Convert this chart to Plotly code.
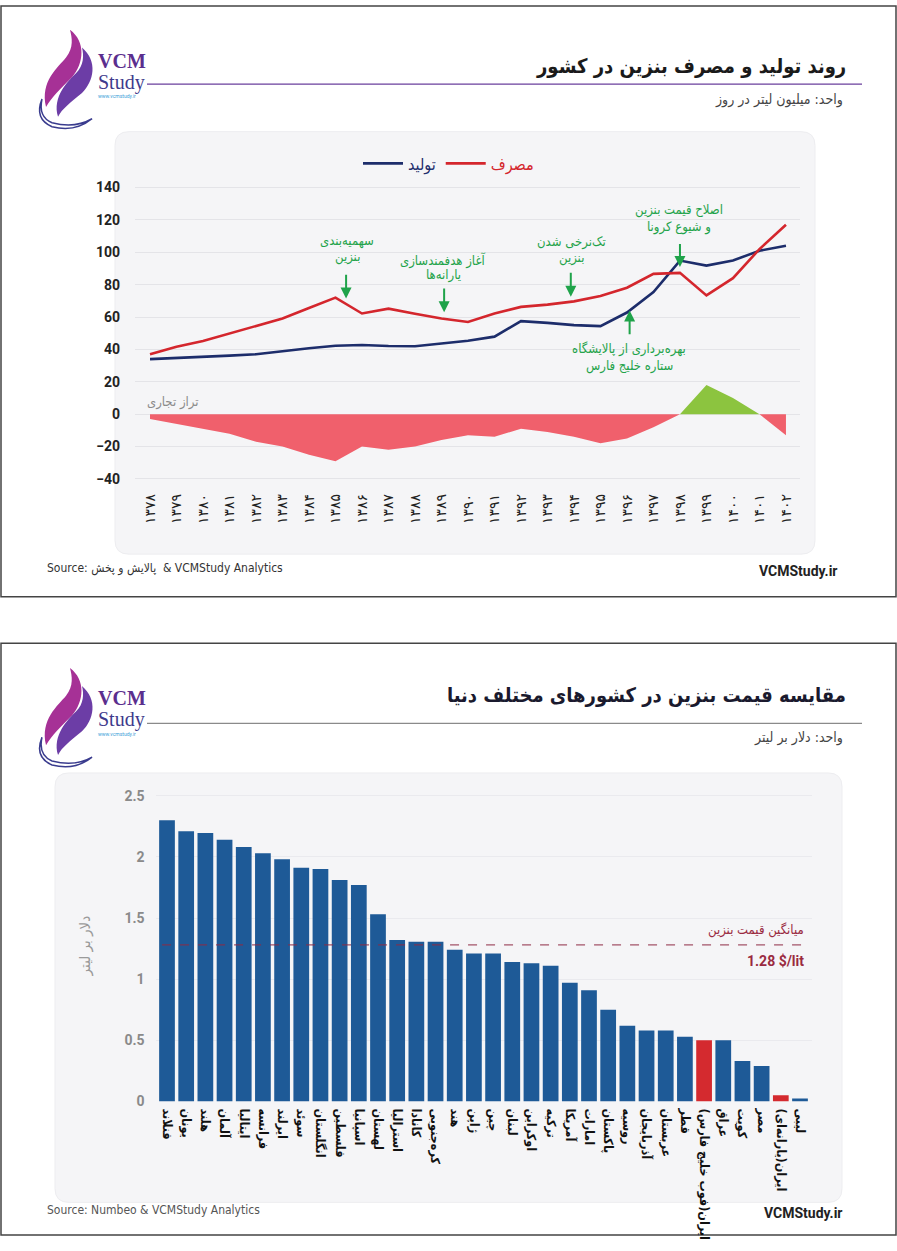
import plotly.graph_objects as go

W, H = 897, 1251

# ---------------- data: chart 1 ----------------
years = ["۱۳۷۸", "۱۳۷۹", "۱۳۸۰", "۱۳۸۱", "۱۳۸۲", "۱۳۸۳", "۱۳۸۴", "۱۳۸۵", "۱۳۸۶",
         "۱۳۸۷", "۱۳۸۸", "۱۳۸۹", "۱۳۹۰", "۱۳۹۱", "۱۳۹۲", "۱۳۹۳", "۱۳۹۴", "۱۳۹۵",
         "۱۳۹۶", "۱۳۹۷", "۱۳۹۸", "۱۳۹۹", "۱۴۰۰", "۱۴۰۱", "۱۴۰۲"]
production = [34, 34.6, 35.6, 36.2, 37, 39, 40.7, 42.3, 42.7, 42.1, 42, 43.7, 45.4,
              47.9, 57.5, 56.4, 55, 54.4, 62.8, 75.5, 94.9, 91.8, 94.9, 101, 104]
consumption = [37, 41.7, 45.2, 49.8, 54.6, 59.1, 65.6, 72, 62.2, 65.2, 62, 59.1, 57,
               62.2, 66.3, 67.7, 69.7, 73, 78.1, 86.7, 87.3, 73.4, 84, 102, 117]
balance = [-3, -6, -9, -12, -17, -20, -25, -29, -20, -22, -20, -16, -13, -14, -9,
           -11, -14, -18, -15, -8, 0, 18, 10, 0, -13]

# ---------------- data: chart 2 ----------------
countries = ["فنلاند", "یونان", "هلند", "آلمان", "ایتالیا", "فرانسه", "ایرلند", "سوئد",
             "انگلستان", "فلسطین", "اسپانیا", "لهستان", "استرالیا", "کانادا", "کره‌جنوبی",
             "هند", "ژاپن", "چین", "لبنان", "اوکراین", "ترکیه", "آمریکا", "امارات",
             "پاکستان", "روسیه", "آذربایجان", "عربستان", "قطر", "ایران(فوب خلیج فارس)",
             "عراق", "کویت", "مصر", "ایران(یارانه‌ای)", "لیبی"]
prices = [2.30, 2.21, 2.195, 2.14, 2.08, 2.03, 1.98, 1.91, 1.90, 1.81, 1.77, 1.53,
          1.32, 1.305, 1.305, 1.24, 1.21, 1.21, 1.14, 1.13, 1.11, 0.97, 0.91, 0.75,
          0.62, 0.58, 0.58, 0.53, 0.50, 0.50, 0.33, 0.29, 0.05, 0.025]
highlight = ["ایران(فوب خلیج فارس)", "ایران(یارانه‌ای)"]
avg_price = 1.28

FONT = "Roboto, DejaVu Sans, sans-serif"
FA = "DejaVu Sans, sans-serif"
FAC = "DejaVu Sans Condensed, DejaVu Sans, sans-serif"

def px(x):
    return x / W

def py(y):
    return 1 - y / H

def path(pts):
    s = ""
    for cmd, coords in pts:
        s += cmd + " " + " ".join(f"{px(coords[i]):.4f},{py(coords[i+1]):.4f}"
                                  for i in range(0, len(coords), 2)) + " "
    return s + "Z"

def rrect(x0, y0, x1, y1, r):
    return path([("M", [x0 + r, y0]), ("L", [x1 - r, y0]), ("Q", [x1, y0, x1, y0 + r]),
                 ("L", [x1, y1 - r]), ("Q", [x1, y1, x1 - r, y1]), ("L", [x0 + r, y1]),
                 ("Q", [x0, y1, x0, y1 - r]), ("L", [x0, y0 + r]), ("Q", [x0, y0, x0 + r, y0])])

idx = list(range(len(years)))
neg = [min(b, 0) for b in balance]
pos = [max(b, 0) for b in balance]

fig = go.Figure()

# chart 1 traces
fig.add_trace(go.Scatter(x=idx, y=neg, mode="lines", line=dict(width=0, color="#F0606C"),
                         fill="tozeroy", fillcolor="#F0606C", showlegend=False,
                         xaxis="x", yaxis="y"))
fig.add_trace(go.Scatter(x=idx, y=pos, mode="lines", line=dict(width=0, color="#8CC43F"),
                         fill="tozeroy", fillcolor="#8CC43F", showlegend=False,
                         xaxis="x", yaxis="y"))
fig.add_trace(go.Scatter(x=idx, y=production, mode="lines",
                         line=dict(color="#1D2D6B", width=2.6),
                         name='<span style="color:#1D2D6B">تولید</span>',
                         xaxis="x", yaxis="y"))
fig.add_trace(go.Scatter(x=idx, y=consumption, mode="lines",
                         line=dict(color="#D4262D", width=2.6),
                         name='<span style="color:#D4262D">مصرف</span>',
                         xaxis="x", yaxis="y"))

# chart 2 bars
bar_colors = ["#D42A2F" if c in highlight else "#1E5A97" for c in countries]
cidx = list(range(len(countries)))
fig.add_trace(go.Bar(x=cidx, y=prices, marker=dict(color=bar_colors, line=dict(width=0)),
                     width=0.82, showlegend=False, xaxis="x2", yaxis="y2"))

shapes = []
# panel frames
shapes.append(dict(type="rect", xref="paper", yref="paper", x0=px(1), x1=px(896),
                   y0=py(598), y1=py(1), line=dict(color="#444", width=1.5), layer="below"))
shapes.append(dict(type="rect", xref="paper", yref="paper", x0=px(1), x1=px(896),
                   y0=py(1243), y1=py(645), line=dict(color="#444", width=1.5), layer="below"))
# chart backgrounds
shapes.append(dict(type="path", xref="paper", yref="paper", path=rrect(115, 128, 815, 555, 14),
                   fillcolor="#F5F5F7", line=dict(color="#EDEDF0", width=1), layer="below"))
shapes.append(dict(type="path", xref="paper", yref="paper", path=rrect(55, 776, 842, 1210, 14),
                   fillcolor="#F5F5F7", line=dict(color="#EDEDF0", width=1), layer="below"))
# title underlines
shapes.append(dict(type="line", xref="paper", yref="paper", x0=px(147), x1=px(862),
                   y0=py(80), y1=py(80), line=dict(color="#6A3F9C", width=1.2)))
shapes.append(dict(type="line", xref="paper", yref="paper", x0=px(147), x1=px(862),
                   y0=py(726), y1=py(726), line=dict(color="#8A8A8A", width=1.2)))
# average line
shapes.append(dict(type="line", xref="x2 domain", yref="y2", x0=0.01, x1=0.99,
                   y0=avg_price, y1=avg_price,
                   line=dict(color="#8E2B45", width=1, dash="dash"), layer="above"))

# logos (simple flame)
def logo(oy):
    out = []
    out.append(dict(type="path", xref="paper", yref="paper", line=dict(width=0),
                    fillcolor="#A63196", layer="above",
                    path=path([("M", [46, oy + 88]), ("C", [40, oy + 62, 58, oy + 48, 66, oy + 38]),
                               ("C", [74, oy + 28, 72, oy + 18, 70, oy + 10]),
                               ("C", [86, oy + 22, 84, oy + 44, 72, oy + 58]),
                               ("C", [60, oy + 70, 52, oy + 78, 46, oy + 88])])))
    out.append(dict(type="path", xref="paper", yref="paper", line=dict(width=0),
                    fillcolor="#6C3DA6", layer="above",
                    path=path([("M", [58, oy + 98]), ("C", [52, oy + 78, 68, oy + 62, 76, oy + 54]),
                               ("C", [84, oy + 46, 84, oy + 36, 82, oy + 28]),
                               ("C", [98, oy + 42, 94, oy + 62, 82, oy + 74]),
                               ("C", [70, oy + 84, 62, oy + 90, 58, oy + 98])])))
    out.append(dict(type="path", xref="paper", yref="paper", line=dict(color="#3A3C8E", width=1.5),
                    layer="above",
                    path=path([("M", [42, oy + 80]), ("Q", [34, oy + 100, 52, oy + 108]),
                               ("Q", [75, oy + 114, 92, oy + 100]), ("Q", [75, oy + 110, 52, oy + 104]),
                               ("Q", [38, oy + 98, 42, oy + 80])])))
    return out

shapes += logo(15)
shapes += logo(660)

annotations = []

def txt(x, y, s, size=12, color="#222", xanchor="center", family=FA, weight="normal", yanchor="middle"):
    annotations.append(dict(x=px(x), y=py(y), xref="paper", yref="paper", text=s, showarrow=False,
                            xanchor=xanchor, yanchor=yanchor,
                            font=dict(size=size, color=color, family=family, weight=weight)))

# headers
txt(848, 62, "روند تولید و مصرف بنزین در کشور", size=20, color="#1a1a1a", xanchor="right",
    family=FAC, weight="bold")
txt(845, 95, "واحد: میلیون لیتر در روز", size=14, color="#444", xanchor="right", family=FAC)
txt(848, 697, "مقایسه قیمت بنزین در کشورهای مختلف دنیا", size=20, color="#1a1a2e", xanchor="right",
    family=FAC, weight="bold")
txt(845, 740, "واحد: دلار بر لیتر", size=14, color="#444", xanchor="right", family=FAC)
for oy in (0, 645):
    txt(96, oy + 57 if oy == 0 else oy + 55, "VCM", size=20, color="#5B2E8E", xanchor="left",
        family="Liberation Serif, DejaVu Serif, serif", weight="bold")
    txt(96, oy + 78 if oy == 0 else oy + 77, "Study", size=20, color="#3E3A8C", xanchor="left",
        family="Liberation Serif, DejaVu Serif, serif")
    txt(96, oy + 92, "www.vcmstudy.ir", size=5, color="#3AA0D8", xanchor="left", family=FONT)

# footers
txt(45, 569, "Source: پالایش و پخش  & VCMStudy Analytics", size=12, color="#333", xanchor="left", family=FAC)
txt(840, 572, "VCMStudy.ir", size=14, color="#222", xanchor="right", family=FONT, weight="bold")
txt(45, 1218, "Source: Numbeo & VCMStudy Analytics", size=12, color="#555", xanchor="left", family=FAC)
txt(845, 1221, "VCMStudy.ir", size=14, color="#222", xanchor="right", family=FONT, weight="bold")

# chart1 notes
GREEN = "#1FA34A"
txt(173, 401, "تراز تجاری", size=13, color="#8A8A8A", family=FAC)
notes = [
    (347, 238, 255, "سهمیه‌بندی", "بنزین"),
    (443, 258, 273, "آغاز هدفمندسازی", "یارانه‌ها"),
    (571, 239, 256, "تک‌نرخی شدن", "بنزین"),
    (679, 207, 224, "اصلاح قیمت بنزین", "و شیوع کرونا"),
    (629, 348, 365, "بهره‌برداری از پالایشگاه", "ستاره خلیج فارس"),
]
for x, y1, y2, l1, l2 in notes:
    txt(x, y1, l1, size=13, color=GREEN, family=FAC)
    txt(x, y2, l2, size=13, color=GREEN, family=FAC)

arrows = [(7.4, 87, 71.5), (11.1, 78.5, 63), (15.88, 88.3, 72.5), (20.0, 106, 91), (18.1, 48.5, 64)]
for x, y0, y1 in arrows:
    annotations.append(dict(x=x, y=y1, ax=x, ay=y0, xref="x", yref="y", axref="x", ayref="y",
                            text="", showarrow=True, arrowhead=2, arrowsize=1.1, arrowwidth=2,
                            arrowcolor=GREEN))

# chart2 notes
txt(806, 935, "میانگین قیمت بنزین", size=13, color="#9A2A40", xanchor="right", family=FAC)
txt(806, 966, "1.28 $/lit", size=14, color="#9A2A40", xanchor="right", family=FONT, weight="bold")

fig.update_layout(
    width=W, height=H,
    margin=dict(l=0, r=0, t=0, b=0),
    paper_bgcolor="white", plot_bgcolor="rgba(0,0,0,0)",
    font=dict(family=FA, color="#222"),
    shapes=shapes, annotations=annotations,
    legend=dict(orientation="h", x=0.5, xanchor="center", y=py(143), yanchor="top",
                font=dict(size=16, family=FAC), bgcolor="rgba(0,0,0,0)", itemwidth=40,
                traceorder="normal"),
    xaxis=dict(domain=[px(135), px(800)], range=[-0.566, 24.53], tickmode="array",
               tickvals=idx, ticktext=years, tickangle=-90, showgrid=False, zeroline=False,
               tickfont=dict(size=14, color="#222", family=FA), showline=False, anchor="y",
               ticks="", ticklabelstandoff=8),
    yaxis=dict(domain=[py(482.2), py(181.2)], range=[-42, 142], tickvals=[-40, -20, 0, 20, 40, 60, 80, 100, 120, 140],
               showgrid=True, gridcolor="#E4E4E8", gridwidth=1, zeroline=False,
               tickfont=dict(size=14, color="#222", family=FONT, weight="bold"), anchor="x",
               ticklabelstandoff=14),
    xaxis2=dict(domain=[px(155.5), px(811.5)], range=[-0.6, 33.6], tickmode="array",
                tickvals=cidx, ticktext=countries, tickangle=90, showgrid=False, zeroline=False,
                tickfont=dict(size=12.5, color="#111", family=FAC, weight="bold"), anchor="y2",
                ticks="", ticklabelstandoff=6),
    yaxis2=dict(domain=[py(1108), py(792.8)], range=[0, 2.55], tickvals=[0, 0.5, 1, 1.5, 2, 2.5],
                ticktext=["0", "0.5", "1", "1.5", "2", "2.5"],
                showgrid=True, gridcolor="#EAEAEE", zeroline=False,
                tickfont=dict(size=14, color="#8A8A8A", family=FONT, weight="bold"), anchor="x2",
                title=dict(text="دلار بر لیتر", font=dict(size=15, color="#9A9A9A", family=FAC), standoff=30),
                ticklabelstandoff=10),
    bargap=0.18,
)

fig.write_html("out.html", config={"displayModeBar": False},
               post_script="document.body.style.margin='0';document.body.style.overflow='hidden';")
